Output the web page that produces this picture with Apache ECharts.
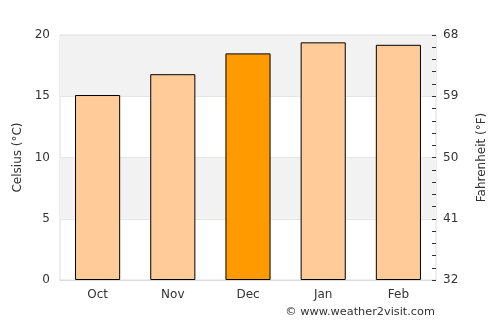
<!DOCTYPE html>
<html><head><meta charset="utf-8">
<script src="https://cdn.jsdelivr.net/npm/echarts@6/dist/echarts.min.js"></script>
<style>html,body{margin:0;padding:0;background:#fff}#c{width:500px;height:325px}</style>
</head><body><div id="c"></div>
<script>
var categories = ['Oct','Nov','Dec','Jan','Feb'];
var celsius = [15.1, 16.8, 18.5, 19.4, 19.2];
var highlightIndex = 2;
var fahrenheitTicks = [32, 41, 50, 59, 68];

var chart = echarts.init(document.getElementById('c'), null, {renderer:'canvas'});
var font = 'DejaVu Sans';
chart.setOption({
  animation:false,
  textStyle:{fontFamily:font},
  grid:{left:60,right:64,top:35,bottom:45,show:true,borderColor:'#dddddd',borderWidth:1,backgroundColor:'transparent'},
  xAxis:{type:'category',data:categories,
    axisLine:{show:true,lineStyle:{color:'#dddddd'}},axisTick:{show:false},
    axisLabel:{color:'#333',fontSize:12,fontFamily:font,margin:9}},
  yAxis:[
    {type:'value',min:0,max:20,interval:5,position:'left',
     name:'Celsius (°C)',nameLocation:'middle',nameGap:35,nameRotate:90,
     nameTextStyle:{color:'#333',fontSize:12,fontFamily:font},
     axisLine:{show:false},axisTick:{show:false},
     axisLabel:{color:'#333',fontSize:12,fontFamily:font,margin:10},
     splitLine:{show:true,lineStyle:{color:'#e6e6e6'}},
     splitArea:{show:true,areaStyle:{color:['rgba(255,255,255,0)','#f2f2f2']}}},
    {type:'value',min:fahrenheitTicks[0],max:fahrenheitTicks[fahrenheitTicks.length-1],interval:9,position:'right',
     name:'Fahrenheit (°F)',nameLocation:'middle',nameGap:40,nameRotate:90,
     nameTextStyle:{color:'#333',fontSize:12,fontFamily:font},
     axisLine:{show:false},
     axisTick:{show:true,inside:true,length:4,lineStyle:{color:'#333'}},
     minorTick:{show:true,splitNumber:5,length:4,lineStyle:{color:'#333'}},
     axisLabel:{color:'#333',fontSize:12,fontFamily:font,margin:7},
     splitLine:{show:false}}
  ],
  series:[{type:'bar',data:celsius.map(function(v,i){return {value:v,itemStyle:{color:i===highlightIndex?'#ff9a00':'#ffcc99'}};}),
    barWidth:'60%',itemStyle:{borderColor:'#000',borderWidth:1}}],
  graphic:[{type:'text',right:65,top:307,style:{text:'© www.weather2visit.com',fill:'#333',font:'11.3px "DejaVu Sans"'}}]
});
</script></body></html>
